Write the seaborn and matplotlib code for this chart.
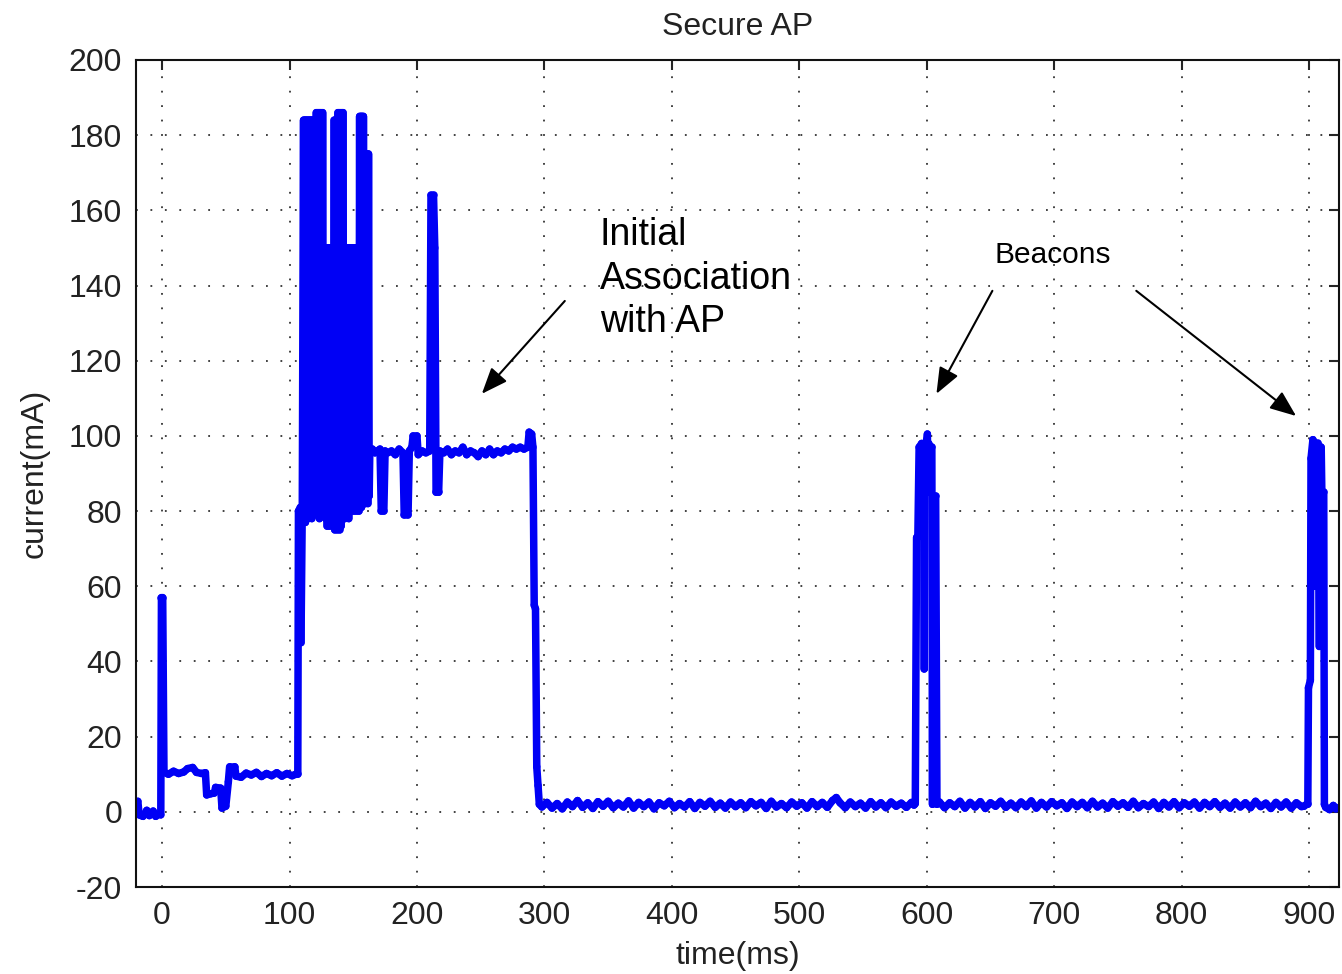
import numpy as np
import pandas as pd
import matplotlib
matplotlib.use("Agg")
import matplotlib.pyplot as plt
import seaborn as sns

# current trace, (time ms, current mA)
startup = [(-20.5, 2.5), (-19, 2.8), (-18, -0.8), (-15, -1.2), (-12, 0.4), (-10, -1.0),
           (-7, 0.2), (-5, -1.2), (-2, -0.5), (-1, -0.8), (-0.5, 57), (0.5, 57),
           (1.5, 10.5), (5, 10), (9, 10.8), (13, 10.2), (17, 10.6), (20, 11.5), (24, 11.8),
           (27, 10.5), (31, 10.2), (34, 10.4), (35, 4.5), (38, 4.8), (41, 5), (42, 6.5),
           (46, 6.3), (47, 1), (50, 1.5), (52, 8), (53, 12), (57, 12), (58, 9.5), (62, 9.2),
           (66, 10.3), (70, 9.8), (74, 10.5), (78, 9.4), (82, 10.2), (86, 9.6), (90, 10.4),
           (94, 9.5), (98, 10.2), (102, 9.6), (105, 10), (106.5, 10), (107, 80), (108.5, 81),
           (109, 45), (110, 80)]

# the dense burst during association: peak at each ms, trough half a ms later
burst_peak_t = [111, 112, 113, 114, 115, 116, 117, 118, 119, 120, 121, 122, 123, 124, 125, 126,
                127, 128, 129, 130, 131, 132, 133, 134, 135, 136, 137, 138, 139, 140, 141, 142,
                143, 144, 145, 146, 147, 148, 149, 150, 151, 152, 153, 154, 155, 156, 157, 158,
                159, 160, 161, 162]
burst_peak = [184, 184, 184, 184, 184, 184, 184, 184, 184, 184, 186, 186, 186, 186, 186, 186,
              150, 150, 150, 150, 150, 150, 150, 150, 184, 184, 184, 186, 186, 186, 186, 186,
              150, 150, 150, 150, 150, 150, 150, 150, 150, 150, 150, 150, 185, 185, 185, 185,
              175, 175, 175, 175]
burst_trough = [79, 77, 80, 78, 80, 79, 78, 80, 79, 80, 87, 79, 78, 80, 79, 80,
                79, 78, 76, 77, 76, 78, 77, 76, 75, 76, 75, 76, 75, 76, 80, 79,
                78, 79, 80, 78, 82, 80, 81, 80, 82, 80, 81, 80, 82, 81, 84, 82,
                82, 83, 82, 84]

plateau = [(163, 96), (165, 96.5), (167, 95.5), (169, 96), (171, 96.5), (172, 80), (174, 80),
           (175, 96), (177, 95.5), (180, 96), (183, 95), (186, 96.5), (189, 95.5), (190, 79),
           (193, 79), (194, 96), (196, 97), (197, 100), (200, 100), (201, 95), (204, 96),
           (207, 95.5), (210, 96), (211, 164), (213, 164), (214, 150), (215, 85), (217, 85),
           (218, 96), (221, 95.5), (224, 96.5), (227, 95), (230, 96), (233, 95.5), (236, 97),
           (239, 95), (242, 96), (245, 95.5), (248, 94.5), (251, 96), (254, 95), (257, 96.5),
           (260, 95), (263, 96), (266, 95.5), (269, 96.5), (272, 96), (275, 97), (278, 96.5),
           (281, 97), (284, 96.5), (287, 97), (288, 101), (290, 100.5), (291, 97), (292, 55),
           (293, 54), (294, 12), (295, 7), (296, 2)]

idle1 = [(298, 1.3), (302, 2.5), (306, 1.0), (310, 2.2), (314, 0.8), (318, 2.6), (322, 1.4),
         (326, 3.0), (330, 1.2), (334, 2.4), (338, 0.9), (342, 2.7), (346, 1.5), (350, 2.8),
         (354, 1.1), (358, 2.3), (362, 1.3), (366, 2.9), (370, 1.0), (374, 2.5), (378, 1.4),
         (382, 2.6), (386, 0.8), (390, 2.4), (394, 1.6), (398, 2.8), (402, 1.1), (406, 2.2),
         (410, 1.3), (414, 2.7), (418, 0.9), (422, 2.5), (426, 1.5), (430, 2.8), (434, 1.2),
         (438, 2.3), (442, 1.0), (446, 2.6), (450, 1.4), (454, 2.4), (458, 1.1), (462, 2.7),
         (466, 1.6), (470, 2.5), (474, 0.9), (478, 2.8), (482, 1.3), (486, 2.2), (490, 1.1),
         (494, 2.6), (498, 1.5), (502, 2.4), (506, 1.0), (510, 2.7), (514, 1.4), (518, 2.5),
         (522, 1.2), (526, 3.0), (529, 3.8), (532, 2.4), (536, 1.1), (540, 2.6), (544, 1.4),
         (548, 2.3), (552, 1.0), (556, 2.7), (560, 1.3), (564, 2.4), (568, 1.1), (572, 2.6),
         (576, 1.5), (580, 2.3), (584, 1.2), (588, 2.5)]

beacon1 = [(590, 1.8), (591, 2.2), (592, 73), (593, 73), (594, 97), (596, 98), (597.5, 97),
           (598, 38), (598.5, 97), (600, 99), (600.5, 100.5), (601, 85), (601.5, 98),
           (603, 97), (604, 97), (604.5, 2), (605, 84), (607, 84), (608, 2)]

idle2 = [(610, 2.6), (614, 1.1), (618, 2.4), (622, 1.4), (626, 2.8), (630, 1.0), (634, 2.5),
         (638, 1.3), (642, 2.7), (646, 0.9), (650, 2.4), (654, 1.5), (658, 2.8), (662, 1.2),
         (666, 2.3), (670, 1.1), (674, 2.6), (678, 1.4), (682, 2.9), (686, 1.0), (690, 2.5),
         (694, 1.3), (698, 2.7), (702, 1.6), (706, 2.4), (710, 0.9), (714, 2.6), (718, 1.4),
         (722, 2.5), (726, 1.1), (730, 2.8), (734, 1.3), (738, 2.3), (742, 1.0), (746, 2.7),
         (750, 1.5), (754, 2.4), (758, 1.2), (762, 2.8), (766, 1.1), (770, 2.2), (774, 1.4),
         (778, 2.6), (782, 0.9), (786, 2.5), (790, 1.3), (794, 2.7), (798, 1.1), (802, 2.4),
         (806, 1.5), (810, 2.6), (814, 1.0), (818, 2.5), (822, 1.4), (826, 2.7), (830, 1.2),
         (834, 2.3), (838, 1.0), (842, 2.6), (846, 1.3), (850, 2.4), (854, 1.1), (858, 2.8),
         (862, 1.4), (866, 2.3), (870, 0.9), (874, 2.5), (878, 1.3), (882, 2.6), (886, 1.0),
         (890, 2.4), (894, 1.4), (896, 1.5)]

beacon2 = [(898, 2), (899, 2), (899.5, 33), (901, 35), (901.5, 94), (903, 99), (904, 98),
           (904.5, 60), (905, 98), (907, 98), (908, 44), (908.5, 97), (909.5, 97), (910, 85),
           (911.5, 85), (912, 2), (913, 1.2), (916, 0.6), (919, 1.7), (921, 0.8), (923.5, 1.2)]

xticks = [0, 100, 200, 300, 400, 500, 600, 700, 800, 900]
yticks = [-20, 0, 20, 40, 60, 80, 100, 120, 140, 160, 180, 200]

burst = []
for t, hi, lo in zip(burst_peak_t, burst_peak, burst_trough):
    burst += [(t, hi), (t + 0.5, lo)]

pts = startup + burst + plateau + idle1 + beacon1 + idle2 + beacon2

# draw the trace as short pieces (one per sample step) so the very sharp
# back-and-forth in the burst stays solid
rows = []
for k in range(len(pts) - 1):
    rows.append((k, pts[k][0], pts[k][1]))
    rows.append((k, pts[k + 1][0], pts[k + 1][1]))
df = pd.DataFrame(rows, columns=["seg", "time", "current"])

sns.set_theme(style="white")
plt.rcParams['font.family'] = ['Liberation Sans', 'DejaVu Sans']
plt.rcParams['axes.unicode_minus'] = False

fig = plt.figure(figsize=(13.42, 9.74), dpi=100)
ax = fig.add_axes([0.1013, 0.0893, 0.8965, 0.8491])

ax.grid(True, color="#333333", linestyle=(0, (1, 7)), linewidth=1.3)
ax.set_axisbelow(True)

sns.lineplot(data=df, x="time", y="current", units="seg", sort=False, estimator=None,
             color="#0000f5", linewidth=5.4, solid_capstyle="round", ax=ax)

ax.set_xlim(-20.5, 923.5)
ax.set_ylim(-20, 200)
ax.set_xticks(xticks)
ax.set_yticks(yticks)
ax.tick_params(direction="in", length=7, width=1.5, top=True, right=True,
               labelsize=23, labelcolor="#222222", pad=10)
for s in ax.spines.values():
    s.set_visible(True)
    s.set_color("#111111")
    s.set_linewidth(1.5)

ax.set_xlabel("time(ms)", fontsize=23, color="#222222", labelpad=7)
ax.set_ylabel("current(mA)", fontsize=23, color="#222222", labelpad=14)
ax.set_title("Secure AP", fontsize=23, color="#222222", pad=18)

ax.text(343.4, 158.3, "Initial\nAssociation\nwith AP", fontsize=27, color="black",
        ha="left", va="top", linespacing=1.28)
ax.text(698.6, 148, "Beacons", fontsize=21.5, color="black", ha="center", va="center")

arr = dict(arrowstyle="-|>,head_length=0.8,head_width=0.32", color="black", lw=1.5,
           mutation_scale=20, shrinkA=0, shrinkB=0)
ax.annotate("", xy=(250.9, 111.2), xytext=(316, 135.9), arrowprops=arr)
ax.annotate("", xy=(607.6, 111.2), xytext=(651.5, 138.6), arrowprops=arr)
ax.annotate("", xy=(889.8, 105.3), xytext=(764.4, 138.6), arrowprops=arr)

fig.savefig("out.png", dpi=100)
